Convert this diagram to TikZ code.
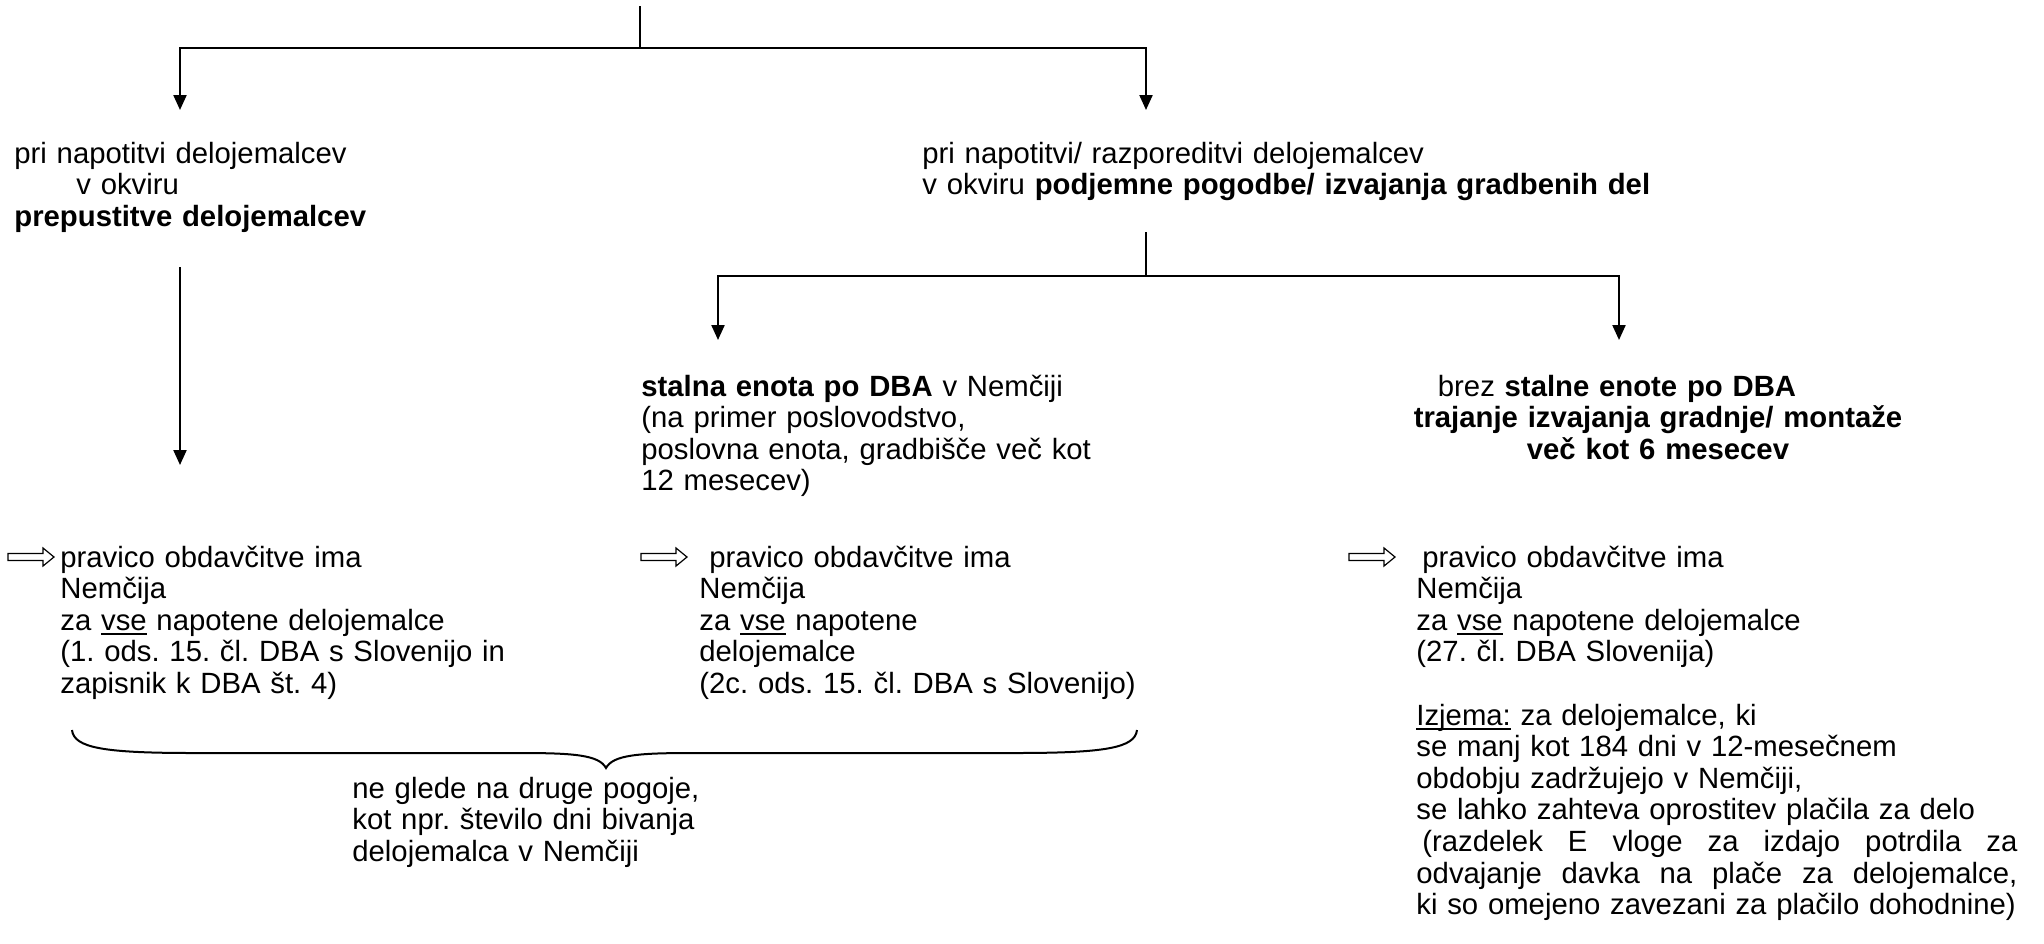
\documentclass[tikz,border=0pt]{standalone}
\usepackage{fontspec}
\setmainfont{Liberation Sans}
\usetikzlibrary{arrows.meta}
\frenchspacing
\newcommand{\ulx}[1]{\leavevmode\setbox0\hbox{#1}\rlap{\vrule height -0.09em depth 0.165em width \wd0}\box0\relax}
\newcommand{\justline}[1]{\makebox[300.5pt][s]{\spaceskip=0.278em plus 2em\relax #1}}
\tikzset{
  ln/.style={line width=1.1pt},
  arr/.style={ln,-{Triangle[width=6.5pt,length=7.5pt]}},
  txt/.style={inner sep=0pt, align=left, font=\fontsize{14.65pt}{15.8pt}\selectfont},
  harr/.pic={\draw[line width=0.6pt] (0,-3.5) -- (35,-3.5) -- (35,-9) -- (46,0) -- (35,9) -- (35,3.5) -- (0,3.5) -- cycle;}
}
\begin{document}
\begin{tikzpicture}[x=0.5pt,y=-0.5pt]
\useasboundingbox (0,0) rectangle (2044,943);
% top connectors
\coordinate (t0) at (640,6);
\coordinate (t1) at (640,48);
\coordinate (aL) at (180,110);
\coordinate (aR) at (1146,110);
\draw[ln] (t0) -- (t1);
\draw[arr] (t1) -| (aL);
\draw[arr] (t1) -| (aR);
% row 1
\node[txt, text width=300pt, anchor=base west] (L1) at (14,163)
  {pri napotitvi delojemalcev\\\hspace*{31pt}v okviru\\\textbf{prepustitve delojemalcev}};
\node[txt, text width=400pt, anchor=base west] (R1) at (922,163)
  {pri napotitvi/ razporeditvi delojemalcev\\v okviru \textbf{podjemne pogodbe/ izvajanja gradbenih del}};
% left long arrow
\coordinate (lv0) at (180,267);
\coordinate (lv1) at (180,465);
\draw[arr] (lv0) -- (lv1);
% middle split
\coordinate (mv0) at (1146,232);
\coordinate (mv1) at (1146,276);
\coordinate (mL) at (718,340);
\coordinate (mR) at (1619,340);
\draw[ln] (mv0) -- (mv1);
\draw[arr] (mv1) -| (mL);
\draw[arr] (mv1) -| (mR);
% row 2
\node[txt, text width=300pt, anchor=base west] (M2) at (641,396)
  {\textbf{stalna enota po DBA} v Nemčiji\\(na primer poslovodstvo,\\poslovna enota, gradbišče več kot\\12 mesecev)};
\node[txt, text width=300pt, align=center, anchor=base] (R2) at (1658,396)
  {brez \textbf{stalne enote po DBA}\kern41pt\mbox{}\\\textbf{trajanje izvajanja gradnje/ montaže}\\\textbf{več kot 6 mesecev}};
% row 3 hollow arrows
\pic (h1) at (8,557) {harr};
\pic (h2) at (641,557) {harr};
\pic (h3) at (1349,557) {harr};
\node[txt, text width=280pt, anchor=base west] (L3) at (60,567)
  {pravico obdavčitve ima\\Nemčija\\za \ulx{vse} napotene delojemalce\\(1. ods. 15. čl. DBA s Slovenijo in\\zapisnik k DBA št. 4)};
\node[txt, text width=280pt, anchor=base west] (M3) at (699,567)
  {\hspace*{5pt}pravico obdavčitve ima\\Nemčija\\za \ulx{vse} napotene\\delojemalce\\(2c. ods. 15. čl. DBA s Slovenijo)};
\node[txt, text width=302pt, anchor=base west] (R3) at (1416,567)
  {\hspace*{3pt}pravico obdavčitve ima\\Nemčija\\za \ulx{vse} napotene delojemalce\\(27. čl. DBA Slovenija)\\[15.8pt]\ulx{Izjema:} za delojemalce, ki\\se manj kot 184 dni v 12-mesečnem\\obdobju zadržujejo v Nemčiji,\\se lahko zahteva oprostitev plačila za delo\\\justline{\hspace*{3pt}(razdelek E vloge za izdajo potrdila za}\\\justline{odvajanje davka na plače za delojemalce,}\\\mbox{ki so omejeno zavezani za plačilo dohodnine)}};
% brace
\coordinate (bL) at (72,730);
\coordinate (bT) at (606,768);
\coordinate (bR) at (1137,730);
\draw[line width=1pt] (bL) .. controls (74,748) and (104,753) .. (194,753) -- (520,753)
  .. controls (574,753) and (599,755) .. (bT)
  .. controls (613,755) and (638,753) .. (692,753) -- (1015,753)
  .. controls (1105,753) and (1135,748) .. (bR);
\node[txt, text width=300pt, anchor=base west] (B) at (352,798)
  {ne glede na druge pogoje,\\kot npr. število dni bivanja\\delojemalca v Nemčiji};
\end{tikzpicture}
\end{document}
